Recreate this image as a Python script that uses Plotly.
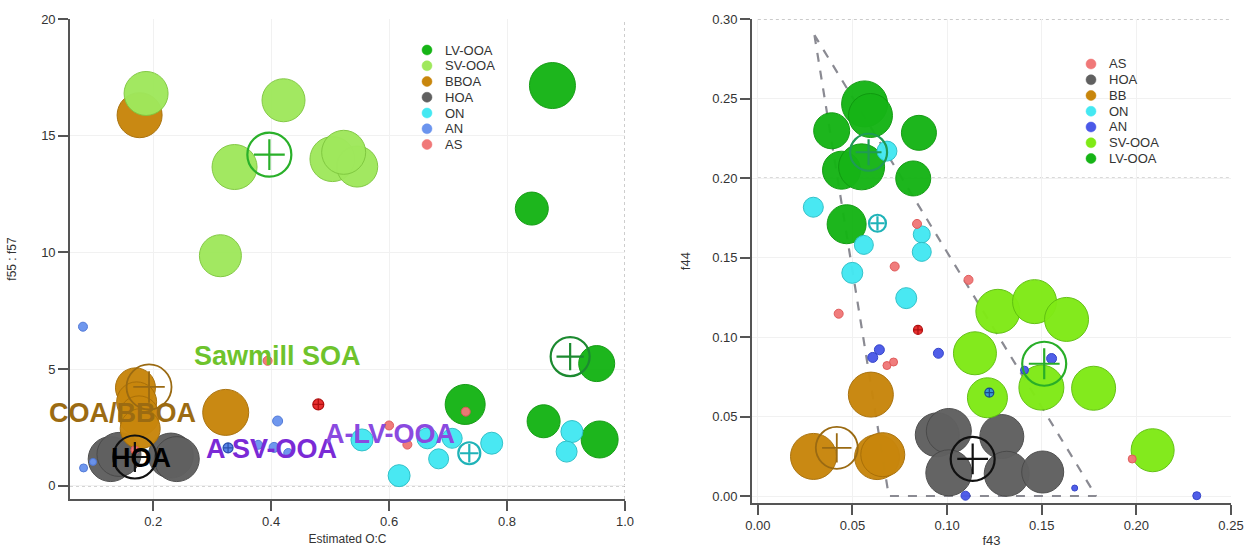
import plotly.graph_objects as go

W, H = 1245, 548

# ---------------- Left panel: f55:f57 vs Estimated O:C ----------------
L_LV_x = [0.877, 0.842, 0.952, 0.729, 0.862, 0.957]
L_LV_y = [17.15, 11.88, 5.24, 3.49, 2.77, 1.99]
L_LV_s = [46, 33, 36, 40, 33, 37]
L_LV_c = ([0.907], [5.54])

L_SV_x = [0.188, 0.421, 0.338, 0.504, 0.546, 0.523, 0.314]
L_SV_y = [16.81, 16.52, 13.66, 14.00, 13.68, 14.29, 9.86]
L_SV_s = [44, 43, 45, 45, 41, 44, 42]
L_SV_c = ([0.397], [14.19])

L_BB_x = [0.177, 0.323, 0.170, 0.172, 0.176, 0.178]
L_BB_y = [15.88, 3.15, 4.20, 3.60, 3.00, 2.45]
L_BB_s = [45, 46, 40, 40, 40, 40]
L_BB_c = ([0.193], [4.24])

L_HOA_x = [0.128, 0.142, 0.230, 0.240]
L_HOA_y = [1.15, 1.35, 1.30, 1.15]
L_HOA_s = [45, 44, 45, 45]
L_HOA_c = ([0.169], [1.24])

L_ON_x = [0.554, 0.617, 0.665, 0.684, 0.707, 0.774, 0.910, 0.901]
L_ON_y = [1.97, 0.44, 2.04, 1.16, 2.04, 1.83, 2.33, 1.47]
L_ON_s = [22, 22, 21, 20, 20, 22, 22, 21]
L_ON_c = ([0.736], [1.40])

L_AN_x = [0.081, 0.082, 0.098, 0.411, 0.378, 0.405, 0.429]
L_AN_y = [6.82, 0.77, 1.03, 2.78, 1.76, 1.65, 1.41]
L_AN_s = [9, 8, 7, 10, 9, 10, 9]
L_AN_c = ([0.327], [1.63])

L_AS_x = [0.394, 0.600, 0.631, 0.730, 0.169]
L_AS_y = [5.36, 2.59, 1.77, 3.18, 1.54]
L_AS_s = [9, 9, 9, 9, 8]
L_AS_c = ([0.480], [3.49])

# ---------------- Right panel: f44 vs f43 ----------------
R_LV_x = [0.0564, 0.0595, 0.0390, 0.0851, 0.0442, 0.0548, 0.0821, 0.0469]
R_LV_y = [0.2467, 0.2394, 0.2298, 0.2285, 0.2050, 0.2071, 0.1998, 0.1710]
R_LV_s = [46, 44, 36, 35, 38, 46, 35, 39]
R_LV_c = ([0.0585], [0.2163])

R_ON_x = [0.0293, 0.0682, 0.0560, 0.0499, 0.0866, 0.0866, 0.0784]
R_ON_y = [0.1817, 0.2170, 0.1580, 0.1404, 0.1646, 0.1536, 0.1245]
R_ON_s = [20, 20, 19, 21, 17, 19, 21]
R_ON_c = ([0.0632], [0.1716])

R_AS_x = [0.0841, 0.0723, 0.0427, 0.1113, 0.0682, 0.0717, 0.1978]
R_AS_y = [0.1712, 0.1444, 0.1147, 0.1360, 0.0821, 0.0843, 0.0233]
R_AS_s = [9, 9, 9, 9, 8, 8, 8]
R_AS_c = ([0.0846], [0.1045])

R_AN_x = [0.0607, 0.0642, 0.0954, 0.1552, 0.1409, 0.1097, 0.1674, 0.2319]
R_AN_y = [0.0872, 0.0920, 0.0898, 0.0865, 0.0792, 0.0002, 0.0050, 0.0002]
R_AN_s = [10, 10, 10, 10, 8, 9, 6, 8]
R_AN_c = ([0.1223], [0.0651])

R_SV_x = [0.1268, 0.1462, 0.1631, 0.1147, 0.1498, 0.1774, 0.1213, 0.2086]
R_SV_y = [0.1162, 0.1223, 0.1111, 0.0898, 0.0682, 0.0678, 0.0618, 0.0288]
R_SV_s = [44, 44, 44, 43, 45, 44, 40, 43]
R_SV_c = ([0.1513], [0.0832])

R_BB_x = [0.0597, 0.0294, 0.0630, 0.0660]
R_BB_y = [0.0638, 0.0249, 0.0245, 0.0260]
R_BB_s = [45, 46, 45, 44]
R_BB_c = ([0.0417], [0.0303])

R_HOA_x = [0.0948, 0.1009, 0.1289, 0.1009, 0.1315, 0.1505]
R_HOA_y = [0.0385, 0.0409, 0.0374, 0.0146, 0.0140, 0.0151]
R_HOA_s = [44, 45, 44, 46, 45, 42]
R_HOA_c = ([0.1135], [0.0233])

TRI_x = [0.0299, 0.0692, 0.1787, 0.0299]
TRI_y = [0.290, 0.0, 0.0, 0.290]

LEFT_LEGEND = ["LV-OOA", "SV-OOA", "BBOA", "HOA", "ON", "AN", "AS"]
RIGHT_LEGEND = ["AS", "HOA", "BB", "ON", "AN", "SV-OOA", "LV-OOA"]

# colours
C_LV = "#16b416"
C_SV_L = "#9fe85c"
C_SV_R = "#80ea16"
C_BB = "#c8860c"
C_HOA = "#606060"
C_ON = "#44e8f2"
C_AN_L = "#6b94ee"
C_AN_R = "#4b59e8"
C_AS = "#f07878"

FONT = "Liberation Sans, Arial, sans-serif"

fig = go.Figure()


def bubbles(x, y, s, color, line, xa, ya, opacity=0.97):
    fig.add_trace(go.Scatter(
        x=x, y=y, mode="markers", xaxis=xa, yaxis=ya, showlegend=False,
        hoverinfo="skip",
        marker=dict(size=s, color=color, opacity=opacity,
                    line=dict(color=line, width=1))))


def centroid(c, size, color, xa, ya, width=2.2, plus=0.5):
    fig.add_trace(go.Scatter(
        x=c[0], y=c[1], mode="markers", xaxis=xa, yaxis=ya, showlegend=False,
        hoverinfo="skip",
        marker=dict(size=size, symbol="circle-open", color=color,
                    line=dict(color=color, width=width))))
    fig.add_trace(go.Scatter(
        x=c[0], y=c[1], mode="markers", xaxis=xa, yaxis=ya, showlegend=False,
        hoverinfo="skip",
        marker=dict(size=size * plus, symbol="cross-thin-open", color=color,
                    line=dict(color=color, width=width))))


def small_centroid(c, size, fill, line, xa, ya):
    fig.add_trace(go.Scatter(
        x=c[0], y=c[1], mode="markers", xaxis=xa, yaxis=ya, showlegend=False,
        hoverinfo="skip",
        marker=dict(size=size, symbol="circle-cross", color=fill,
                    line=dict(color=line, width=1.2))))


# ---- left panel traces
bubbles(L_HOA_x, L_HOA_y, L_HOA_s, C_HOA, "#4a4a4a", "x", "y")
bubbles(L_BB_x, L_BB_y, L_BB_s, C_BB, "#a86f08", "x", "y")
bubbles(L_SV_x, L_SV_y, L_SV_s, C_SV_L, "#80c840", "x", "y")
bubbles(L_LV_x, L_LV_y, L_LV_s, C_LV, "#0f9a0f", "x", "y")
bubbles(L_ON_x, L_ON_y, L_ON_s, C_ON, "#2cc0c8", "x", "y")
bubbles(L_AN_x, L_AN_y, L_AN_s, C_AN_L, "#4f78d8", "x", "y")
bubbles(L_AS_x, L_AS_y, L_AS_s, C_AS, "#e05858", "x", "y")
centroid(L_LV_c, 39, "#1c8a30", "x", "y")
centroid(L_SV_c, 44, "#2ab02a", "x", "y")
centroid(L_BB_c, 45, "#9a6a12", "x", "y", width=1.8)
centroid(L_HOA_c, 43, "#111111", "x", "y")
centroid(L_ON_c, 22, "#1fb3b8", "x", "y", width=2.2, plus=0.6)
small_centroid(L_AN_c, 10, "#5a86e6", "#2a50b0", "x", "y")
small_centroid(L_AS_c, 11, "#e83030", "#b01010", "x", "y")

# ---- right panel traces
fig.add_trace(go.Scatter(x=TRI_x, y=TRI_y, mode="lines", xaxis="x2", yaxis="y2",
                         showlegend=False, hoverinfo="skip",
                         line=dict(color="#8a8a92", width=2.2, dash="dash")))
bubbles(R_HOA_x, R_HOA_y, R_HOA_s, C_HOA, "#4a4a4a", "x2", "y2")
bubbles(R_BB_x, R_BB_y, R_BB_s, C_BB, "#a86f08", "x2", "y2")
bubbles(R_SV_x, R_SV_y, R_SV_s, C_SV_R, "#60c010", "x2", "y2")
bubbles(R_LV_x, R_LV_y, R_LV_s, C_LV, "#0f9a0f", "x2", "y2")
bubbles(R_ON_x, R_ON_y, R_ON_s, C_ON, "#2cc0c8", "x2", "y2")
bubbles(R_AS_x, R_AS_y, R_AS_s, C_AS, "#e05858", "x2", "y2")
bubbles(R_AN_x, R_AN_y, R_AN_s, C_AN_R, "#3040c8", "x2", "y2")
centroid(R_LV_c, 37, "#1f9a55", "x2", "y2")
centroid(R_SV_c, 44, "#28ae28", "x2", "y2")
centroid(R_BB_c, 42, "#9a6a12", "x2", "y2", width=1.8)
centroid(R_HOA_c, 44, "#111111", "x2", "y2")
centroid(R_ON_c, 17, "#1fb3b8", "x2", "y2", width=2.2, plus=0.6)
small_centroid(R_AN_c, 9, "#3a9ad8", "#1a4a8a", "x2", "y2")
small_centroid(R_AS_c, 9, "#e83030", "#b01010", "x2", "y2")

# ---- text labels on left panel
labels = [
    ("Sawmill SOA", 0.411, 5.57, "#6ec32c"),
    ("COA/BBOA", 0.148, 3.14, "#9b6b12"),
    ("HOA", 0.179, 1.20, "#000000"),
    ("A SV-OOA", 0.401, 1.57, "#7a2ad6"),
    ("A-LV-OOA", 0.601, 2.24, "#8a4ae0"),
]
for t, x, y, c in labels:
    fig.add_annotation(x=x, y=y, xref="x", yref="y", text="<b>%s</b>" % t,
                       showarrow=False, xanchor="center", yanchor="middle",
                       font=dict(family=FONT, size=27, color=c))

# ---- manual legends
left_colors = [C_LV, C_SV_L, C_BB, C_HOA, C_ON, C_AN_L, C_AS]
right_colors = [C_AS, C_HOA, C_BB, C_ON, C_AN_R, C_SV_R, C_LV]
shapes = []


def legend(names, colors, mx, tx, y0, dy):
    for i, (n, c) in enumerate(zip(names, colors)):
        py = y0 + i * dy
        shapes.append(dict(type="circle", xref="paper", yref="paper",
                           xsizemode="pixel", ysizemode="pixel",
                           xanchor=mx / W, yanchor=1 - py / H,
                           x0=-5, x1=5, y0=-5, y1=5,
                           fillcolor=c, line=dict(color=c, width=0.5)))
        fig.add_annotation(x=tx / W, y=1 - py / H, xref="paper", yref="paper",
                           text=n, showarrow=False, xanchor="left", yanchor="middle",
                           font=dict(family=FONT, size=13, color="#333333"))


legend(LEFT_LEGEND, left_colors, 427, 443, 50, 15.75)
legend(RIGHT_LEGEND, right_colors, 1091, 1107, 64, 15.75)

# dotted reference lines
dot = dict(color="#9a9a9a", width=1, dash="dot")
shapes += [
    dict(type="line", xref="x", yref="y", x0=0.059, x1=1.0, y0=0, y1=0, line=dot, layer="below"),
    dict(type="line", xref="x", yref="y", x0=1.0, x1=1.0, y0=-0.56, y1=20, line=dot, layer="below"),
    dict(type="line", xref="x2", yref="y2", x0=0, x1=0.25, y0=0.20, y1=0.20, line=dot, layer="below"),
    dict(type="line", xref="x2", yref="y2", x0=0, x1=0.25, y0=0.30, y1=0.30, line=dot, layer="below"),
]

axis_common = dict(showline=True, linecolor="#555555", linewidth=1.6, ticks="outside",
                   ticklen=10, tickwidth=1.6, tickcolor="#555555", zeroline=False,
                   showgrid=True, gridcolor="#f1f1f1", gridwidth=1,
                   tickfont=dict(family=FONT, size=13, color="#333333"),
                   automargin=False)

fig.update_layout(
    width=W, height=H, margin=dict(l=0, r=0, t=0, b=0),
    paper_bgcolor="white", plot_bgcolor="white", showlegend=False,
    font=dict(family=FONT),
    shapes=shapes,
    xaxis=dict(axis_common, domain=[70 / W, 625 / W], range=[0.059, 1.0],
               tickvals=[0.2, 0.4, 0.6, 0.8, 1.0], ticktext=["0.2", "0.4", "0.6", "0.8", "1.0"],
               title=dict(text="Estimated O:C", font=dict(family=FONT, size=12, color="#333"),
                          standoff=6)),
    yaxis=dict(axis_common, domain=[1 - 499 / H, 1 - 19 / H], range=[-0.56, 20],
               tickvals=[0, 5, 10, 15, 20],
               title=dict(text="f55 : f57", font=dict(family=FONT, size=12, color="#333"),
                          standoff=22)),
    xaxis2=dict(axis_common, domain=[752 / W, 1231 / W], range=[-0.0031, 0.25], anchor="y2",
                tickvals=[0, 0.05, 0.10, 0.15, 0.20, 0.25], tickformat=".2f",
                title=dict(text="f43", font=dict(family=FONT, size=13, color="#333"),
                           standoff=4)),
    yaxis2=dict(axis_common, domain=[1 - 503 / H, 1 - 19.2 / H], range=[-0.0044, 0.30], anchor="x2",
                tickvals=[0, 0.05, 0.10, 0.15, 0.20, 0.25, 0.30], tickformat=".2f",
                title=dict(text="f44", font=dict(family=FONT, size=13, color="#333"),
                           standoff=19)),
)

fig.write_html("out.html", config={"displayModeBar": False},
               post_script="document.body.style.margin='0';document.body.style.overflow='hidden';")
